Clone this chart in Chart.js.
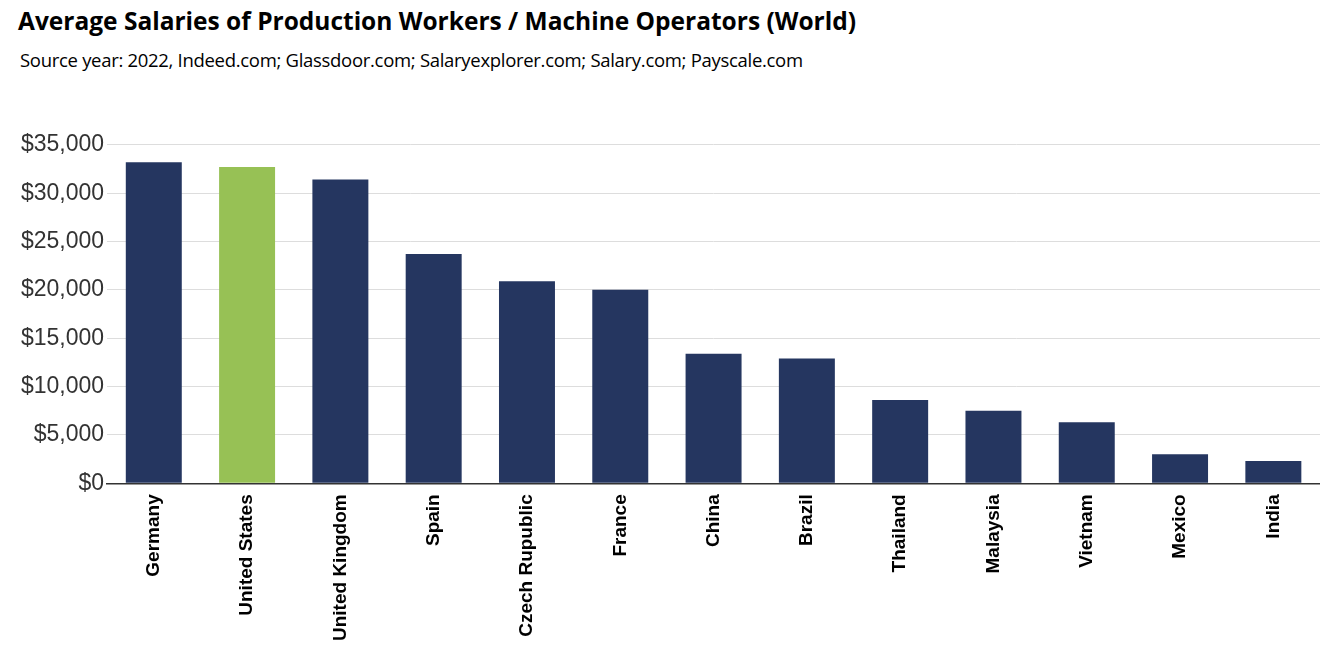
<!DOCTYPE html>
<html><head><meta charset="utf-8">
<script src="https://cdn.jsdelivr.net/npm/chart.js@4"></script>
<style>
body{margin:0;background:#fff;width:1342px;height:654px;overflow:hidden;font-family:"Open Sans",sans-serif}
#t{position:absolute;left:18px;top:4px;font-size:24.5px;font-weight:bold;color:#000}
#s{position:absolute;left:20px;top:47px;font-size:18.5px;color:#000;letter-spacing:-0.3px}
#w{position:absolute;left:0;top:128px;width:1320px;height:516px}
</style></head><body>
<div id="t">Average Salaries of Production Workers / Machine Operators (World)</div>
<div id="s">Source year: 2022, Indeed.com; Glassdoor.com; Salaryexplorer.com; Salary.com; Payscale.com</div>
<div id="w"><canvas id="c"></canvas></div>
<script>
const categories=["Germany","United States","United Kingdom","Spain","Czech Rupublic","France","China","Brazil","Thailand","Malaysia","Vietnam","Mexico","India"];
const salaries=[33200,32700,31400,23700,20900,20000,13400,12900,8600,7500,6300,3000,2300];
const barColors=categories.map(c=>c==="United States"?"#97c155":"#253660");
new Chart(document.getElementById('c'),{type:'bar',
data:{labels:categories,datasets:[{data:salaries,backgroundColor:barColors,categoryPercentage:0.6,barPercentage:1}]},
options:{responsive:true,maintainAspectRatio:false,animation:false,
layout:{padding:{top:8,left:18,right:0}},
plugins:{legend:{display:false},tooltip:{enabled:false}},
scales:{
y:{min:0,max:35000,ticks:{stepSize:5000,color:'#333',font:{family:'Liberation Sans',size:23},callback:v=>'$'+v.toLocaleString('en-US')},
grid:{color:'#dddddd',drawTicks:false},border:{display:false}},
x:{ticks:{minRotation:90,maxRotation:90,color:'#000',font:{family:'Liberation Sans',size:19,weight:'bold'}},
grid:{display:false},border:{color:'#333',width:1.5}}}}});
</script></body></html>
